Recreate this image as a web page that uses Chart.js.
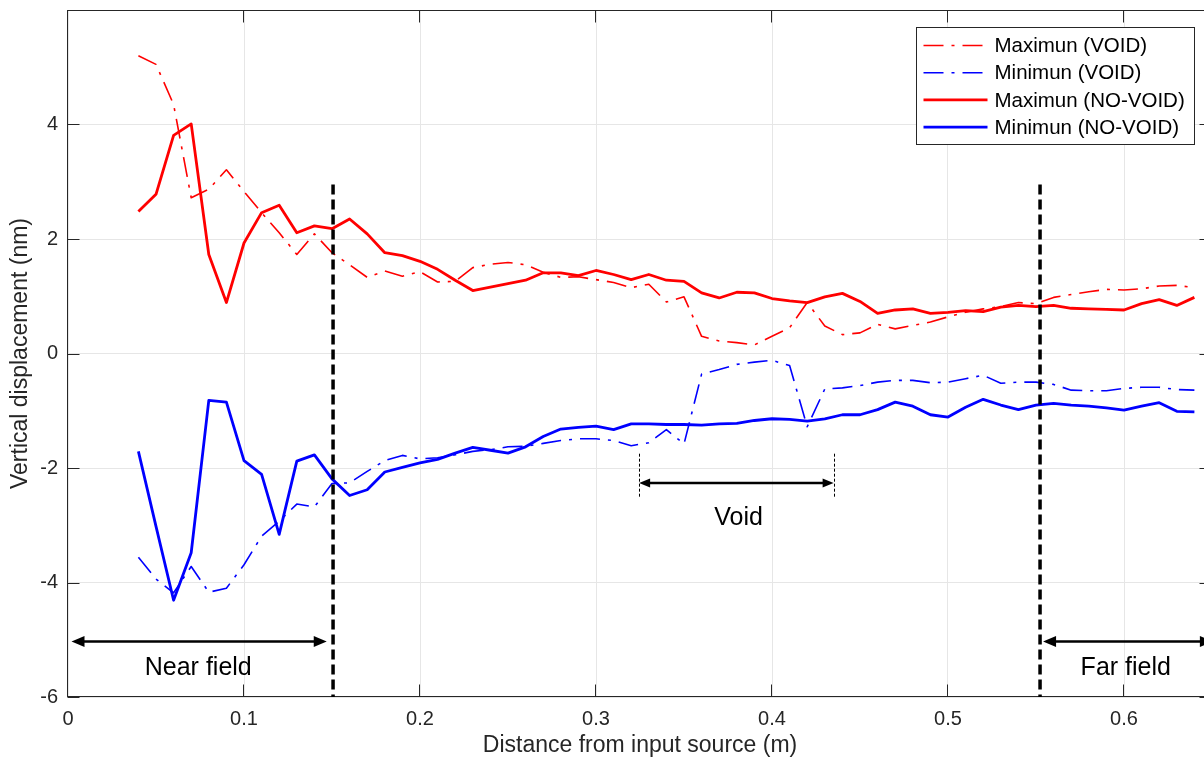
<!DOCTYPE html>
<html>
<head>
<meta charset="utf-8">
<script src="https://cdn.jsdelivr.net/npm/chart.js@4.4.0/dist/chart.umd.min.js"></script>
<style>
  html, body { margin: 0; padding: 0; background: #fff; overflow: hidden; }
  canvas { display: block; }
</style>
</head>
<body>
<canvas id="chart" width="1220" height="762"></canvas>
<script>
// Distance from the input source (m)
const DISTANCE = [
  0.04, 0.05, 0.06, 0.07, 0.08, 0.09, 0.10, 0.11, 0.12, 0.13, 0.14,
  0.15, 0.16, 0.17, 0.18, 0.19, 0.20, 0.21, 0.22, 0.23, 0.24, 0.25,
  0.26, 0.27, 0.28, 0.29, 0.30, 0.31, 0.32, 0.33, 0.34, 0.35, 0.36,
  0.37, 0.38, 0.39, 0.40, 0.41, 0.42, 0.43, 0.44, 0.45, 0.46, 0.47,
  0.48, 0.49, 0.50, 0.51, 0.52, 0.53, 0.54, 0.55, 0.56, 0.57, 0.58,
  0.59, 0.60, 0.61, 0.62, 0.63, 0.64
];

// Vertical displacement envelopes (nm)
const MAX_VOID = [
  5.20, 5.05, 4.35, 2.72, 2.87, 3.21, 2.83, 2.46, 2.11, 1.73, 2.09,
  1.76, 1.55, 1.33, 1.44, 1.35, 1.43, 1.25, 1.26, 1.50, 1.56, 1.59,
  1.55, 1.42, 1.33, 1.34, 1.29, 1.24, 1.15, 1.21, 0.90, 0.99, 0.30,
  0.22, 0.19, 0.15, 0.30, 0.45, 0.89, 0.48, 0.33, 0.36, 0.51, 0.43,
  0.49, 0.55, 0.64, 0.72, 0.78, 0.82, 0.89, 0.87, 0.98, 1.03, 1.08,
  1.12, 1.11, 1.13, 1.18, 1.19, 1.15
];
const MIN_VOID = [
  -3.56, -3.94, -4.18, -3.72, -4.17, -4.10, -3.69, -3.19, -2.93, -2.63, -2.68,
  -2.27, -2.26, -2.06, -1.87, -1.78, -1.84, -1.82, -1.77, -1.71, -1.68, -1.63,
  -1.62, -1.57, -1.52, -1.49, -1.49, -1.52, -1.61, -1.56, -1.33, -1.58, -0.36,
  -0.28, -0.19, -0.15, -0.12, -0.21, -1.28, -0.62, -0.60, -0.56, -0.50, -0.47,
  -0.47, -0.51, -0.50, -0.44, -0.38, -0.52, -0.50, -0.50, -0.54, -0.64, -0.65,
  -0.65, -0.61, -0.59, -0.59, -0.63, -0.64
];
const MAX_NO_VOID = [
  2.48, 2.78, 3.81, 4.01, 1.73, 0.89, 1.93, 2.46, 2.59, 2.11, 2.23,
  2.18, 2.35, 2.09, 1.76, 1.71, 1.61, 1.47, 1.28, 1.10, 1.16, 1.22,
  1.28, 1.41, 1.41, 1.36, 1.45, 1.38, 1.29, 1.38, 1.28, 1.26, 1.06,
  0.97, 1.07, 1.06, 0.96, 0.92, 0.89, 0.99, 1.05, 0.91, 0.70, 0.76,
  0.78, 0.70, 0.72, 0.75, 0.73, 0.81, 0.84, 0.82, 0.84, 0.79, 0.78,
  0.77, 0.76, 0.87, 0.94, 0.84, 0.98
];
const MIN_NO_VOID = [
  -1.71, -3.02, -4.31, -3.48, -0.82, -0.85, -1.87, -2.11, -3.16, -1.88, -1.77,
  -2.19, -2.48, -2.38, -2.07, -1.99, -1.91, -1.85, -1.74, -1.64, -1.69, -1.74,
  -1.63, -1.45, -1.32, -1.29, -1.27, -1.33, -1.23, -1.23, -1.24, -1.24, -1.25,
  -1.23, -1.22, -1.17, -1.14, -1.15, -1.18, -1.14, -1.07, -1.07, -0.98, -0.85,
  -0.92, -1.07, -1.11, -0.94, -0.80, -0.90, -0.98, -0.90, -0.87, -0.90, -0.92,
  -0.95, -0.99, -0.92, -0.86, -1.01, -1.02
];

const X_TICKS = [0, 0.1, 0.2, 0.3, 0.4, 0.5, 0.6];
const Y_TICKS = [-6, -4, -2, 0, 2, 4];

// Region markers, in data units
const NEAR_LIMIT = 0.1506;
const FAR_LIMIT = 0.5523;
const LIMIT_TOP = 2.95;
const FIELD_ARROW_Y = -5.03;
const FIELD_LABEL_Y = -5.5;
const VOID_START = 0.3245;
const VOID_END = 0.435;
const VOID_ARROW_Y = -2.26;

const FONT = '"Liberation Sans", Arial, Helvetica, sans-serif';
const TEXT_COLOR = '#262626';
const GRID_COLOR = '#e6e6e6';
const DASH_DOT = [20, 8, 3, 8];

function series(values) {
  return DISTANCE.map((x, i) => ({ x: x, y: values[i] }));
}

// keep the plot box fixed: no extra room for half tick labels
function fixScale(s, size) {
  if (s.isHorizontal()) s.height = size; else s.width = size;
  s.paddingTop = 0;
  s.paddingBottom = 0;
  s.paddingLeft = 0;
  s.paddingRight = 0;
}

function arrowHead(ctx, x, y, dir, len, half) {
  ctx.beginPath();
  ctx.moveTo(x, y);
  ctx.lineTo(x - dir * len, y - half);
  ctx.lineTo(x - dir * len, y + half);
  ctx.closePath();
  ctx.fill();
}

function doubleArrow(ctx, x1, x2, y, len, half, width) {
  ctx.lineWidth = width;
  ctx.setLineDash([]);
  ctx.beginPath();
  ctx.moveTo(x1 + len - 1, y);
  ctx.lineTo(x2 - len + 1, y);
  ctx.stroke();
  arrowHead(ctx, x1, y, -1, len, half);
  arrowHead(ctx, x2, y, 1, len, half);
}

const frameAndNotes = {
  id: 'frameAndNotes',
  afterDatasetsDraw(chart) {
    const { ctx, chartArea: a, scales: { x, y } } = chart;
    ctx.save();

    // axes box with inward ticks
    const L = Math.round(a.left) - 0.5, R = Math.round(a.right) - 0.5;
    const T = Math.round(a.top) + 0.5, B = Math.round(a.bottom) - 0.5;
    ctx.strokeStyle = TEXT_COLOR;
    ctx.lineWidth = 1;
    ctx.strokeRect(L, T, R - L, B - T);
    ctx.beginPath();
    X_TICKS.forEach(v => {
      const px = Math.round(x.getPixelForValue(v)) - 0.5;
      ctx.moveTo(px, B); ctx.lineTo(px, B - 12);
      ctx.moveTo(px, T); ctx.lineTo(px, T + 12);
    });
    Y_TICKS.forEach(v => {
      const py = Math.round(y.getPixelForValue(v)) + 0.5;
      ctx.moveTo(L, py); ctx.lineTo(L + 12, py);
      ctx.moveTo(R, py); ctx.lineTo(R - 12, py);
    });
    ctx.stroke();

    // near / far field limits
    ctx.strokeStyle = '#000';
    ctx.fillStyle = '#000';
    ctx.lineWidth = 3.5;
    ctx.setLineDash([10, 5]);
    [NEAR_LIMIT, FAR_LIMIT].forEach(v => {
      const px = x.getPixelForValue(v);
      ctx.beginPath();
      ctx.moveTo(px, y.getPixelForValue(LIMIT_TOP));
      ctx.lineTo(px, a.bottom);
      ctx.stroke();
    });

    // field arrows
    const fy = y.getPixelForValue(FIELD_ARROW_Y);
    doubleArrow(ctx, x.getPixelForValue(0.002), x.getPixelForValue(0.147), fy, 13, 5.5, 2.5);
    doubleArrow(ctx, x.getPixelForValue(0.554), x.getPixelForValue(0.6505), fy, 13, 5.5, 2.5);

    // void extent
    ctx.lineWidth = 1;
    ctx.setLineDash([3, 2]);
    [VOID_START, VOID_END].forEach(v => {
      const px = Math.round(x.getPixelForValue(v)) + 0.5;
      ctx.beginPath();
      ctx.moveTo(px, y.getPixelForValue(-1.75));
      ctx.lineTo(px, y.getPixelForValue(-2.52));
      ctx.stroke();
    });
    doubleArrow(ctx, x.getPixelForValue(VOID_START), x.getPixelForValue(VOID_END),
      y.getPixelForValue(VOID_ARROW_Y), 11, 4.5, 2.5);

    ctx.font = '25px ' + FONT;
    ctx.fillStyle = '#000';
    ctx.textAlign = 'center';
    ctx.textBaseline = 'middle';
    ctx.fillText('Near field', x.getPixelForValue(0.074), y.getPixelForValue(FIELD_LABEL_Y));
    ctx.fillText('Far field', x.getPixelForValue(0.601), y.getPixelForValue(FIELD_LABEL_Y));
    ctx.fillText('Void', x.getPixelForValue(0.381), y.getPixelForValue(-2.87));

    // legend
    const bw = 278, bh = 117;
    const bx = Math.round(a.right - 18 - bw) + 0.5, by = Math.round(a.top + 17) + 0.5;
    ctx.setLineDash([]);
    ctx.fillStyle = '#fff';
    ctx.fillRect(bx, by, bw, bh);
    ctx.strokeStyle = TEXT_COLOR;
    ctx.lineWidth = 1;
    ctx.strokeRect(bx, by, bw, bh);
    ctx.font = '20.5px ' + FONT;
    ctx.textAlign = 'left';
    chart.data.datasets.forEach((ds, i) => {
      const ry = by + 18 + i * 27.2;
      ctx.strokeStyle = ds.borderColor;
      ctx.lineWidth = ds.borderWidth;
      ctx.setLineDash(ds.borderDash || []);
      ctx.beginPath();
      ctx.moveTo(bx + 7, ry);
      ctx.lineTo(bx + 71, ry);
      ctx.stroke();
      ctx.setLineDash([]);
      ctx.fillStyle = '#000';
      ctx.fillText(ds.label, bx + 78, ry + 1);
    });

    ctx.restore();
  }
};

new Chart(document.getElementById('chart'), {
  type: 'line',
  data: {
    datasets: [
      { label: 'Maximun (VOID)', data: series(MAX_VOID), borderColor: '#ff0000', borderWidth: 1.6, borderDash: DASH_DOT },
      { label: 'Minimun (VOID)', data: series(MIN_VOID), borderColor: '#0000ff', borderWidth: 1.6, borderDash: DASH_DOT },
      { label: 'Maximun (NO-VOID)', data: series(MAX_NO_VOID), borderColor: '#ff0000', borderWidth: 2.8 },
      { label: 'Minimun (NO-VOID)', data: series(MIN_NO_VOID), borderColor: '#0000ff', borderWidth: 2.8 }
    ]
  },
  options: {
    responsive: false,
    animation: false,
    events: [],
    layout: { padding: { top: 10, right: 8, left: 0, bottom: 0 } },
    elements: {
      line: { tension: 0, fill: false, borderJoinStyle: 'round' },
      point: { radius: 0 }
    },
    plugins: { legend: { display: false }, tooltip: { enabled: false } },
    scales: {
      x: {
        type: 'linear',
        min: 0,
        max: 0.65,
        afterBuildTicks: s => { s.ticks = X_TICKS.map(v => ({ value: v })); },
        afterFit: s => fixScale(s, 65),
        grid: { color: GRID_COLOR, drawTicks: false },
        border: { display: false },
        ticks: {
          padding: 10,
          color: TEXT_COLOR,
          font: { family: FONT, size: 20 },
          maxRotation: 0,
          callback: v => String(+v.toFixed(2))
        },
        title: {
          display: true,
          text: 'Distance from input source (m)',
          color: TEXT_COLOR,
          font: { family: FONT, size: 23 },
          padding: { top: 0, bottom: 2.5 }
        }
      },
      y: {
        type: 'linear',
        min: -6,
        max: 6,
        afterBuildTicks: s => { s.ticks = Y_TICKS.map(v => ({ value: v })); },
        afterFit: s => fixScale(s, 68),
        grid: { color: GRID_COLOR, drawTicks: false },
        border: { display: false },
        ticks: {
          padding: 10,
          color: TEXT_COLOR,
          font: { family: FONT, size: 20 },
          callback: v => String(v)
        },
        title: {
          display: true,
          text: 'Vertical displacement (nm)',
          color: TEXT_COLOR,
          font: { family: FONT, size: 23 },
          padding: { top: 6.5, bottom: 0 }
        }
      }
    }
  },
  plugins: [frameAndNotes]
});
</script>
</body>
</html>
